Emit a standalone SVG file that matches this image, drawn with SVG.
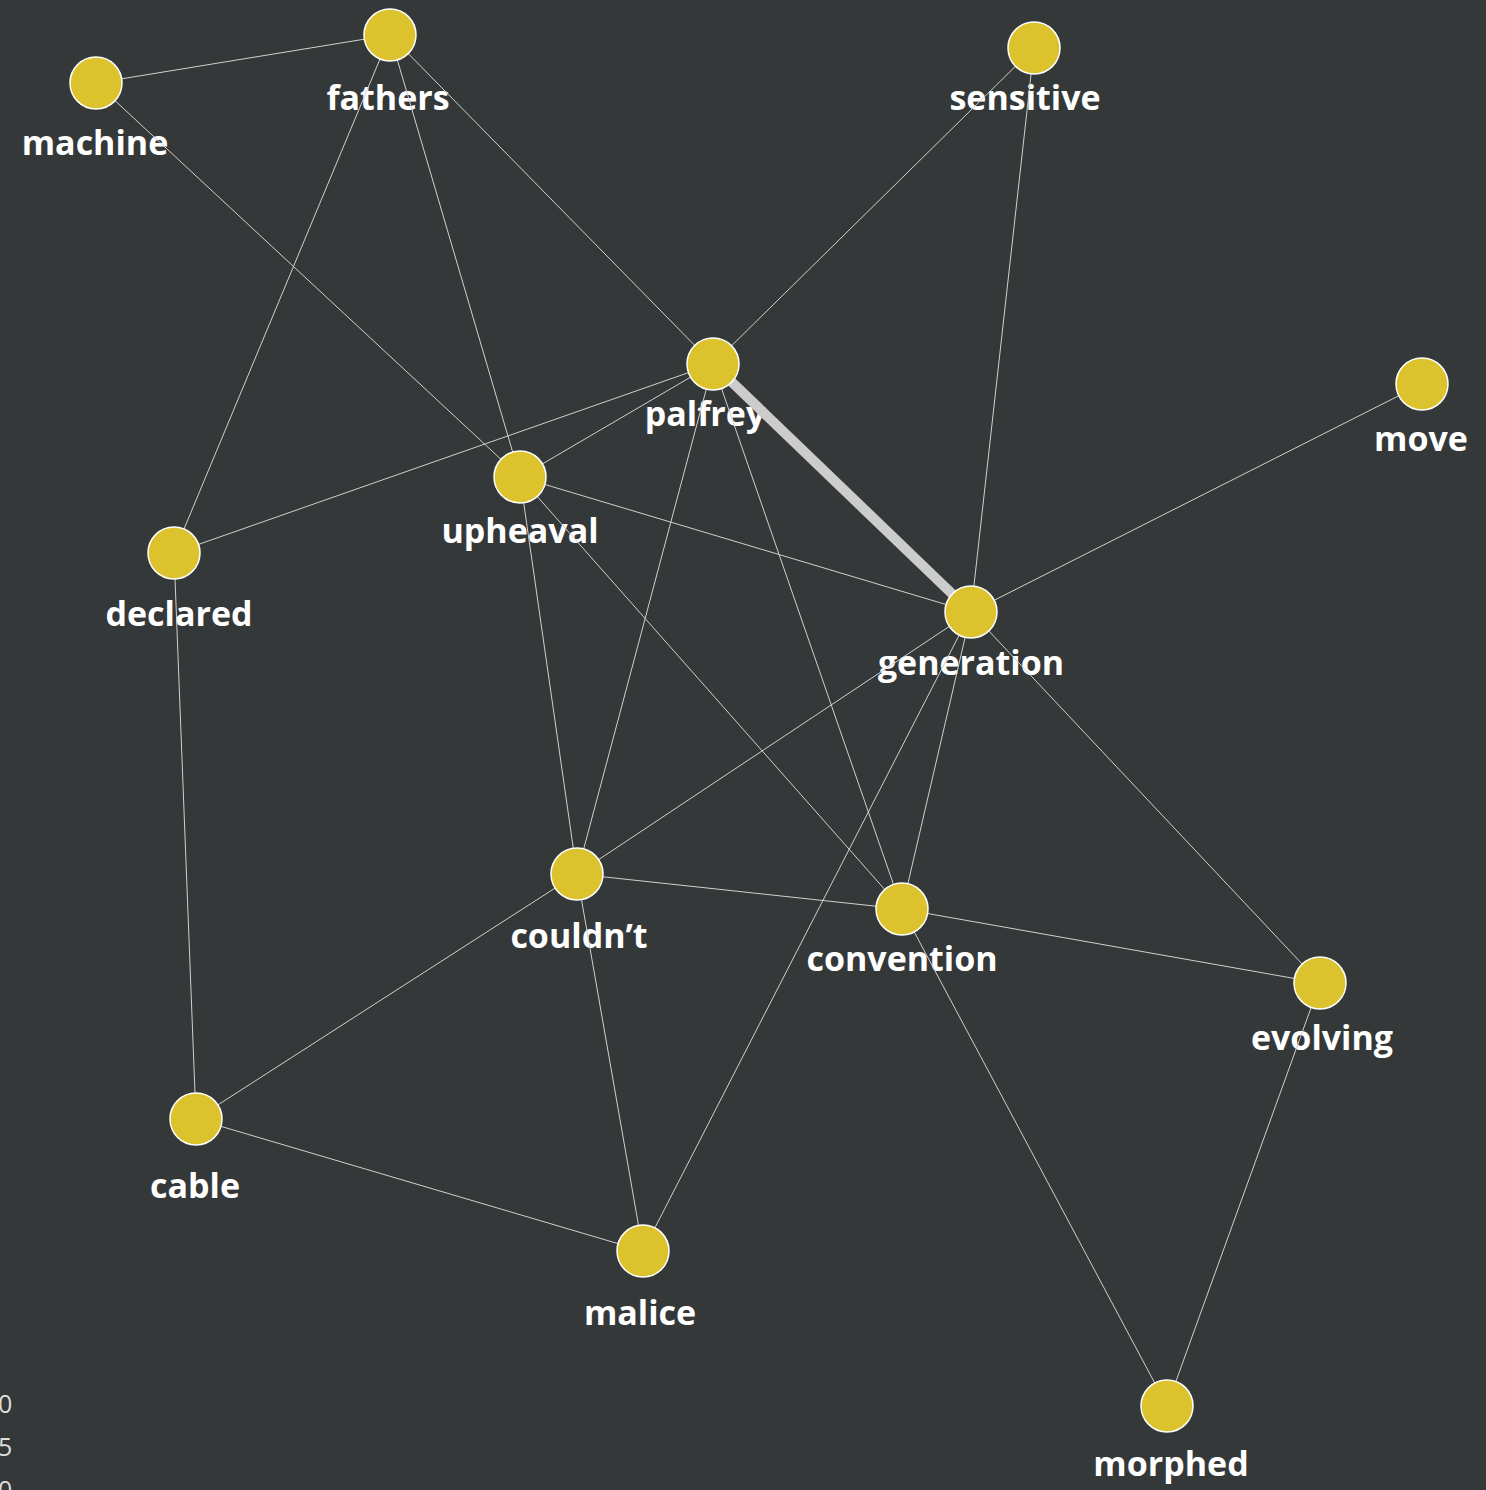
<svg xmlns="http://www.w3.org/2000/svg" width="1486" height="1490" viewBox="0 0 1486 1490">
<style>
.lbl{font-family:"Open Sans","Noto Sans","Liberation Sans",sans-serif;font-weight:700;font-size:34px;fill:#ffffff;text-anchor:middle}
.leg{font-family:"Open Sans","Liberation Sans",sans-serif;font-size:25px;fill:#dddddd}
.e{stroke:#d0d0d0;stroke-width:1;fill:none}
.n{fill:#dcc22c;stroke:#ffffff;stroke-width:1.5}
</style>
<rect width="1486" height="1490" fill="#353838"/>
<g id="legend">
<text class="leg" x="-2" y="1413">0</text>
<text class="leg" x="-2" y="1456">5</text>
<text class="leg" x="-2" y="1499">0</text>
</g>
<g id="labels">
<text class="lbl" x="388" y="110">fathers</text>
<text class="lbl" x="95" y="155">machine</text>
<text class="lbl" x="1025" y="110">sensitive</text>
<text class="lbl" x="705" y="426">palfrey</text>
<text class="lbl" x="1421" y="451">move</text>
<text class="lbl" x="520" y="543">upheaval</text>
<text class="lbl" x="179" y="626">declared</text>
<text class="lbl" x="971" y="675">generation</text>
<text class="lbl" x="579" y="948">couldn’t</text>
<text class="lbl" x="902" y="971">convention</text>
<text class="lbl" x="1322" y="1050">evolving</text>
<text class="lbl" x="195" y="1198">cable</text>
<text class="lbl" x="640" y="1325">malice</text>
<text class="lbl" x="1171" y="1476">morphed</text>
</g>
<g id="edges">
<line class="e" x1="96" y1="83" x2="390" y2="35"/>
<line class="e" x1="390" y1="35" x2="174" y2="553"/>
<line class="e" x1="390" y1="35" x2="520" y2="477"/>
<line class="e" x1="390" y1="35" x2="713" y2="364"/>
<line class="e" x1="96" y1="83" x2="520" y2="477"/>
<line class="e" x1="1034" y1="48" x2="713" y2="364"/>
<line class="e" x1="1034" y1="48" x2="971" y2="612"/>
<line x1="713" y1="364" x2="971" y2="612" stroke="#cccccc" stroke-width="10"/>
<line class="e" x1="713" y1="364" x2="174" y2="553"/>
<line class="e" x1="713" y1="364" x2="520" y2="477"/>
<line class="e" x1="713" y1="364" x2="577" y2="874"/>
<line class="e" x1="713" y1="364" x2="902" y2="909"/>
<line class="e" x1="520" y1="477" x2="971" y2="612"/>
<line class="e" x1="520" y1="477" x2="577" y2="874"/>
<line class="e" x1="520" y1="477" x2="902" y2="909"/>
<line class="e" x1="1422" y1="384" x2="971" y2="612"/>
<line class="e" x1="971" y1="612" x2="577" y2="874"/>
<line class="e" x1="971" y1="612" x2="902" y2="909"/>
<line class="e" x1="971" y1="612" x2="643" y2="1251"/>
<line class="e" x1="971" y1="612" x2="1320" y2="983"/>
<line class="e" x1="174" y1="553" x2="196" y2="1119"/>
<line class="e" x1="577" y1="874" x2="902" y2="909"/>
<line class="e" x1="577" y1="874" x2="196" y2="1119"/>
<line class="e" x1="577" y1="874" x2="643" y2="1251"/>
<line class="e" x1="902" y1="909" x2="1320" y2="983"/>
<line class="e" x1="902" y1="909" x2="1167" y2="1406"/>
<line class="e" x1="1320" y1="983" x2="1167" y2="1406"/>
<line class="e" x1="196" y1="1119" x2="643" y2="1251"/>
</g>
<g id="node-fathers"><circle class="n" cx="390" cy="35" r="26"/></g>
<g id="node-machine"><circle class="n" cx="96" cy="83" r="26"/></g>
<g id="node-sensitive"><circle class="n" cx="1034" cy="48" r="26"/></g>
<g id="node-palfrey"><circle class="n" cx="713" cy="364" r="26"/></g>
<g id="node-move"><circle class="n" cx="1422" cy="384" r="26"/></g>
<g id="node-upheaval"><circle class="n" cx="520" cy="477" r="26"/></g>
<g id="node-declared"><circle class="n" cx="174" cy="553" r="26"/></g>
<g id="node-generation"><circle class="n" cx="971" cy="612" r="26"/></g>
<g id="node-couldnt"><circle class="n" cx="577" cy="874" r="26"/></g>
<g id="node-convention"><circle class="n" cx="902" cy="909" r="26"/></g>
<g id="node-evolving"><circle class="n" cx="1320" cy="983" r="26"/></g>
<g id="node-cable"><circle class="n" cx="196" cy="1119" r="26"/></g>
<g id="node-malice"><circle class="n" cx="643" cy="1251" r="26"/></g>
<g id="node-morphed"><circle class="n" cx="1167" cy="1406" r="26"/></g>
</svg>
